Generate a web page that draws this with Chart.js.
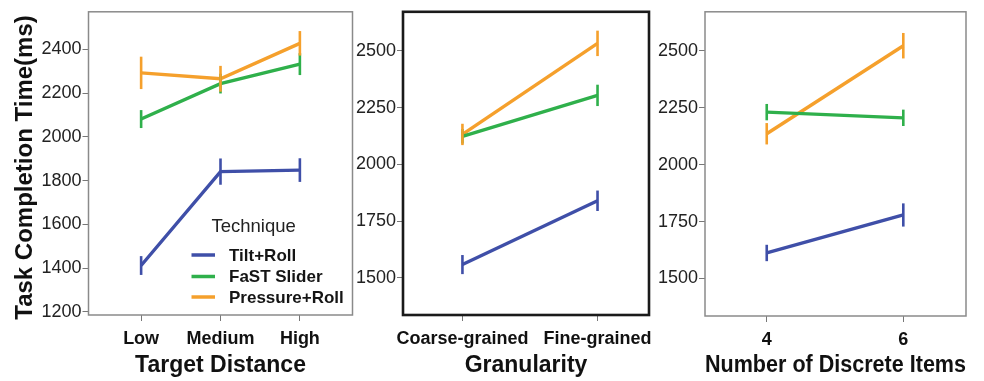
<!DOCTYPE html>
<html><head><meta charset="utf-8">
<script src="https://cdn.jsdelivr.net/npm/chart.js@4.4.0/dist/chart.umd.min.js"></script>
<style>
html,body{margin:0;padding:0;background:#fff;}
#wrap{position:relative;width:984px;height:381px;overflow:hidden;}
.c{position:absolute;left:0;top:0;width:984px;height:381px;}
</style></head><body>
<div id="wrap">
<div class="c"><canvas id="c1"></canvas></div>
<div class="c"><canvas id="c2"></canvas></div>
<div class="c"><canvas id="c3"></canvas></div>
</div>
<script>
// ---- data ----
const seriesNames = ['Tilt+Roll', 'FaST Slider', 'Pressure+Roll'];
const seriesColors = ['#3f4fa8', '#2fb04b', '#f5a02c'];

const distCategories = ['Low', 'Medium', 'High'];
const tiltDist = [1412, 1841, 1848];
const fastDist = [2081, 2243, 2332];
const presDist = [2292, 2265, 2427];
const tiltDistErr = [43, 60, 54];
const fastDistErr = [41, 45, 50];
const presDistErr = [74, 59, 56];
const distTicks = [1200, 1400, 1600, 1800, 2000, 2200, 2400];

const granCategories = ['Coarse-grained', 'Fine-grained'];
const tiltGran = [1559, 1840];
const fastGran = [2124, 2304];
const presGran = [2132, 2533];
const tiltGranErr = [42, 45];
const fastGranErr = [32, 47];
const presGranErr = [47, 56];
const granTicks = [1500, 1750, 2000, 2250, 2500];

const itemCategories = ['4', '6'];
const tiltItems = [1612, 1779];
const fastItems = [2231, 2206];
const presItems = [2136, 2523];
const tiltItemsErr = [36, 51];
const fastItemsErr = [36, 36];
const presItemsErr = [47, 56];
const itemTicks = [1500, 1750, 2000, 2250, 2500];

const FONT = "'Liberation Sans', Arial, Helvetica, sans-serif";
Chart.defaults.font.family = FONT;
const W = 984, H = 381;

const boxPlugin = {
  id: 'boxPlugin',
  afterDraw(chart, args, opts) {
    const a = chart.chartArea, ctx = chart.ctx;
    ctx.save();
    ctx.strokeStyle = opts.color;
    ctx.lineWidth = opts.width;
    ctx.strokeRect(a.left, a.top, a.right - a.left, a.bottom - a.top);
    ctx.restore();
  }
};

const errorBarPlugin = {
  id: 'errorBarPlugin',
  afterDatasetsDraw(chart) {
    const ctx = chart.ctx, xs = chart.scales.x, ys = chart.scales.y;
    ctx.save();
    chart.data.datasets.forEach(ds => {
      ctx.strokeStyle = ds.borderColor;
      ctx.lineWidth = 2.6;
      ds.data.forEach((p, i) => {
        const e = ds.errors[i];
        const px = xs.getPixelForValue(p.x);
        ctx.beginPath();
        ctx.moveTo(px, ys.getPixelForValue(p.y - e));
        ctx.lineTo(px, ys.getPixelForValue(p.y + e));
        ctx.stroke();
      });
    });
    ctx.restore();
  }
};

const legendPlugin = {
  id: 'legendPlugin',
  afterDraw(chart, args, opts) {
    if (!opts.show) return;
    const ctx = chart.ctx;
    ctx.save();
    ctx.fillStyle = '#222';
    ctx.textBaseline = 'middle';
    ctx.textAlign = 'left';
    ctx.font = "18.5px " + FONT;
    ctx.fillText('Technique', 211.5, 227);
    ctx.font = "bold 17px " + FONT;
    const rows = [255, 276.5, 297];
    chart.data.datasets.forEach((ds, i) => {
      ctx.strokeStyle = ds.borderColor;
      ctx.lineWidth = 3.5;
      ctx.beginPath();
      ctx.moveTo(191.5, rows[i]);
      ctx.lineTo(215, rows[i]);
      ctx.stroke();
      ctx.fillStyle = '#151515';
      ctx.fillText(ds.label, 229, rows[i] + 1);
    });
    ctx.restore();
  }
};

const yTitlePlugin = {
  id: 'yTitlePlugin',
  afterDraw(chart, args, opts) {
    if (!opts.text) return;
    const ctx = chart.ctx;
    ctx.save();
    ctx.translate(opts.x, opts.y);
    ctx.rotate(-Math.PI / 2);
    ctx.fillStyle = '#111';
    ctx.font = "bold 24px " + FONT;
    ctx.textAlign = 'center';
    ctx.textBaseline = 'middle';
    ctx.fillText(opts.text, 0, 0);
    ctx.restore();
  }
};

function makeChart(id, c) {
  const datasets = c.series.map((vals, s) => ({
    label: seriesNames[s],
    data: vals.map((v, i) => ({ x: i, y: v })),
    errors: c.errors[s],
    borderColor: seriesColors[s],
    backgroundColor: seriesColors[s],
    borderWidth: 3.4,
    pointRadius: 0,
    tension: 0,
    fill: false
  }));
  return new Chart(document.getElementById(id), {
    type: 'line',
    data: { datasets },
    options: {
      responsive: true,
      maintainAspectRatio: false,
      animation: false,
      devicePixelRatio: 1,
      layout: { padding: { left: 0, top: c.box.top, right: W - c.box.right, bottom: 0 } },
      plugins: {
        legend: { display: false },
        tooltip: { enabled: false },
        boxPlugin: { color: c.borderColor, width: c.borderWidth },
        legendPlugin: { show: !!c.legend },
        yTitlePlugin: c.yTitle || {}
      },
      scales: {
        x: {
          type: 'linear',
          min: c.xmin, max: c.xmax,
          afterBuildTicks: s => { s.ticks = c.categories.map((_, i) => ({ value: i })); },
          afterFit: s => { s.height = H - c.box.bottom; },
          ticks: {
            callback: v => c.categories[v],
            color: '#111',
            font: { size: 18, weight: 'bold' },
            padding: 7,
            maxRotation: 0,
            autoSkip: false
          },
          grid: { drawOnChartArea: false, drawTicks: true, tickLength: 6, color: '#777', lineWidth: 1 },
          border: { display: false },
          title: {
            display: true, text: c.xTitle, color: '#111',
            font: { size: 23, weight: 'bold' },
            padding: { top: 0, bottom: 2 }
          }
        },
        y: {
          type: 'linear',
          min: c.ymin, max: c.ymax,
          afterBuildTicks: s => { s.ticks = c.yTicks.map(v => ({ value: v })); },
          afterFit: s => { s.width = c.box.left; },
          ticks: {
            callback: v => String(v),
            color: '#222',
            font: { size: 18 },
            padding: 1,
            autoSkip: false
          },
          grid: { drawOnChartArea: false, drawTicks: true, tickLength: 6, color: '#777', lineWidth: 1 },
          border: { display: false }
        }
      }
    },
    plugins: [errorBarPlugin, boxPlugin, legendPlugin, yTitlePlugin]
  });
}

makeChart('c1', {
  categories: distCategories,
  series: [tiltDist, fastDist, presDist],
  errors: [tiltDistErr, fastDistErr, presDistErr],
  yTicks: distTicks, ymin: 1186, ymax: 2571,
  xmin: -0.663, xmax: 2.663,
  box: { left: 88.5, top: 8, right: 352.5, bottom: 315 },
  xTitle: 'Target Distance',
  borderColor: '#8a8a8a', borderWidth: 1.5,
  legend: true,
  yTitle: { text: 'Task Completion Time(ms)', x: 25, y: 167.5 }
});
makeChart('c2', {
  categories: granCategories,
  series: [tiltGran, fastGran, presGran],
  errors: [tiltGranErr, fastGranErr, presGranErr],
  yTicks: granTicks, ymin: 1337, ymax: 2672,
  xmin: -0.44, xmax: 1.381,
  box: { left: 403, top: 10, right: 649, bottom: 315 },
  xTitle: 'Granularity',
  borderColor: '#1a1a1a', borderWidth: 2.6
});
makeChart('c3', {
  categories: itemCategories,
  series: [tiltItems, fastItems, presItems],
  errors: [tiltItemsErr, fastItemsErr, presItemsErr],
  yTicks: itemTicks, ymin: 1335, ymax: 2672,
  xmin: -0.452, xmax: 1.459,
  box: { left: 705, top: 10, right: 966, bottom: 316 },
  xTitle: 'Number of Discrete Items',
  borderColor: '#8a8a8a', borderWidth: 1.5
});
</script>
</body></html>
